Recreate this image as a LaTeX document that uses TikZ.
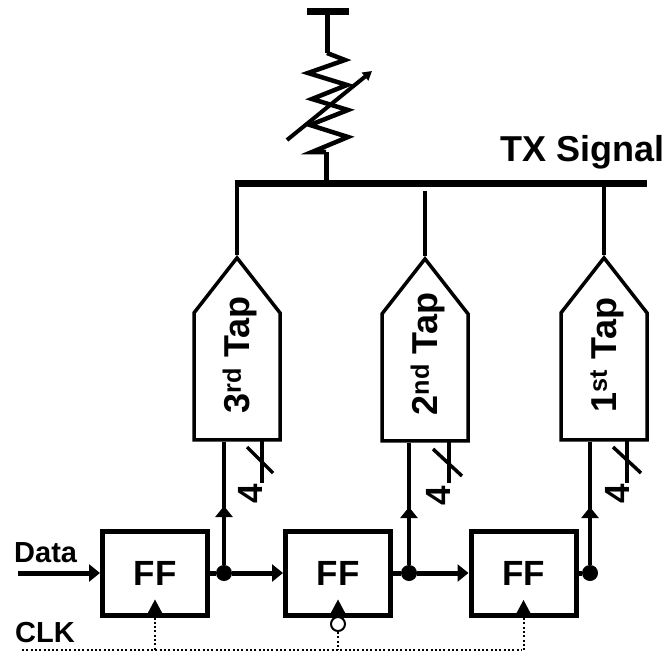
\documentclass[tikz,border=0pt]{standalone}
\usepackage{fontspec}
\setmainfont{Liberation Sans}
\usetikzlibrary{
  shapes.symbols,
  arrows.meta
}
\tikzset{
  wire/.style={line width=3.5pt},
  thickwire/.style={line width=5pt},
  clkwire/.style={line width=2pt,dash pattern=on 2pt off 2.3pt},
  sigtip/.style={-{Triangle[length=11pt,width=17pt]}},
  ffbox/.style={draw,line width=5pt,minimum width=105pt,minimum height=84pt,inner sep=0pt,
    font=\fontsize{35}{35}\selectfont\bfseries},
  tapbox/.style={draw,line width=3.5pt,shape=signal,signal to=north,signal pointer angle=76,
    minimum width=86pt,minimum height=127pt,inner sep=0pt,anchor=north},
  taptext/.style={rotate=90,inner sep=0pt,font=\fontsize{36}{36}\selectfont\bfseries},
  buslabel/.style={inner sep=0pt,anchor=base west,font=\fontsize{29}{29}\selectfont\bfseries},
  txlabelstyle/.style={inner sep=0pt,anchor=base west,font=\fontsize{36}{36}\selectfont\bfseries},
  widthlabel/.style={rotate=90,inner sep=0pt,font=\fontsize{35}{35}\selectfont\bfseries},
  dotnode/.style={circle,fill=black,minimum size=16pt,inner sep=0pt},
}
\begin{document}
\begin{tikzpicture}[x=1pt,y=-1pt]
\useasboundingbox (0,0) rectangle (666,654);
% flip flops
\node[ffbox] (ff1) at (155,573) {FF};
\node[ffbox] (ff2) at (338,573) {FF};
\node[ffbox] (ff3) at (523.5,573.5) {FF};
% taps
\node[tapbox] (tap3) at (237,255) {};
\node[tapbox] (tap2) at (425,256) {};
\node[tapbox] (tap1) at (604,255) {};
\node[taptext] (tap3text) at (240,355) {3\textsuperscript{rd} Tap};
\node[taptext] (tap2text) at (428,354) {2\textsuperscript{nd} Tap};
\node[taptext] (tap1text) at (607,355) {1\textsuperscript{st} Tap};
% output bus and load
\coordinate (busl) at (235,183);
\coordinate (busr) at (647,183);
\coordinate (bus3) at (237,183);
\coordinate (bus2) at (424,191);
\coordinate (bus1) at (604,183);
\coordinate (buson) at (326,183);
\coordinate (rtop) at (327,53);
\coordinate (rbot) at (326,152);
\coordinate (suppl) at (307,11.5);
\coordinate (suppr) at (349,11.5);
\coordinate (suppm) at (327,11.5);
\draw[line width=7pt] (busl) -- (busr);
\draw[wire] (tap3.north) -- (bus3);
\draw[wire] (tap2.north) -- (tap2.north |- bus2);
\draw[wire] (tap1.north) -- (bus1);
\draw[line width=7pt] (suppl) -- (suppr);
\draw[thickwire] (suppm) -- (rtop);
\draw[thickwire] (rbot) -- (buson);
\draw[line width=4.5pt] (rtop) -- (345,60) -- (308,73) -- (347,85) -- (312,99) -- (348,110)
  -- (310,125) -- (348,137) -- (312,152) -- (rbot);
\draw[line width=4pt,-{Triangle[length=9pt,width=10pt]}] (287,140) -- (372,71);
\node[txlabelstyle] (txlabel) at (500,161) {TX Signal};
% shift chain
\node[dotnode] (dot3) at (224,573) {};
\node[dotnode] (dot2) at (409,573) {};
\node[dotnode] (dot1) at (590,573) {};
\node[buslabel] (datalabel) at (14,562) {Data};
\node[buslabel] (clklabel) at (15,642) {CLK};
\coordinate (datain) at (18,573);
\draw[thickwire,sigtip] (datain) -- (ff1.west);
\draw[thickwire] (ff1.east) -- (dot3);
\draw[thickwire,sigtip] (dot3) -- (ff2.west);
\draw[thickwire] (ff2.east) -- (dot2);
\draw[thickwire,sigtip] (dot2) -- (dot2 -| ff3.west);
\draw[thickwire] (dot1 -| ff3.east) -- (dot1);
\draw[wire] (dot3) -- (tap3.south -| dot3);
\draw[wire] (dot2) -- (tap2.south -| dot2);
\draw[wire] (dot1) -- (tap1.south -| dot1);
\draw[wire,sigtip] (dot3) -- ++(0,-67);
\draw[wire,sigtip] (dot2) -- ++(0,-66);
\draw[wire,sigtip] (dot1) -- ++(0,-66);
% tap control, 4 bits
\draw[wire] (262,440) -- (262,483);
\draw[wire] (247,447) -- (273,473);
\node[widthlabel] (bits3) at (250,494) {4};
\draw[wire] (449,441) -- (449,483);
\draw[wire] (433,449) -- (462,476);
\node[widthlabel] (bits2) at (438,496) {4};
\draw[wire] (627,440) -- (627,483);
\draw[wire] (613,447) -- (641,473);
\node[widthlabel] (bits1) at (617,494) {4};
% clock
\fill (ff1.south) ++(-8,-3) -- ++(8,-15) -- ++(8,15) -- cycle;
\fill (ff2.south) ++(-8,-3) -- ++(8,-15) -- ++(8,15) -- cycle;
\fill (ff3.south) ++(-8,-3) -- ++(8,-15) -- ++(8,15) -- cycle;
\node[circle,draw,line width=2pt,minimum size=14pt,inner sep=0pt] (clkinv) at (338,624) {};
\coordinate (clkl) at (22,650);
\coordinate (clkr) at (522,650);
\draw[clkwire] (clkl) -- (clkr);
\draw[clkwire] (ff1.south) -- (ff1.south |- clkl);
\draw[clkwire] (clkinv.south) -- (clkinv.south |- clkl);
\draw[clkwire] (ff3.south) -- (ff3.south |- clkl);
\end{tikzpicture}
\end{document}
